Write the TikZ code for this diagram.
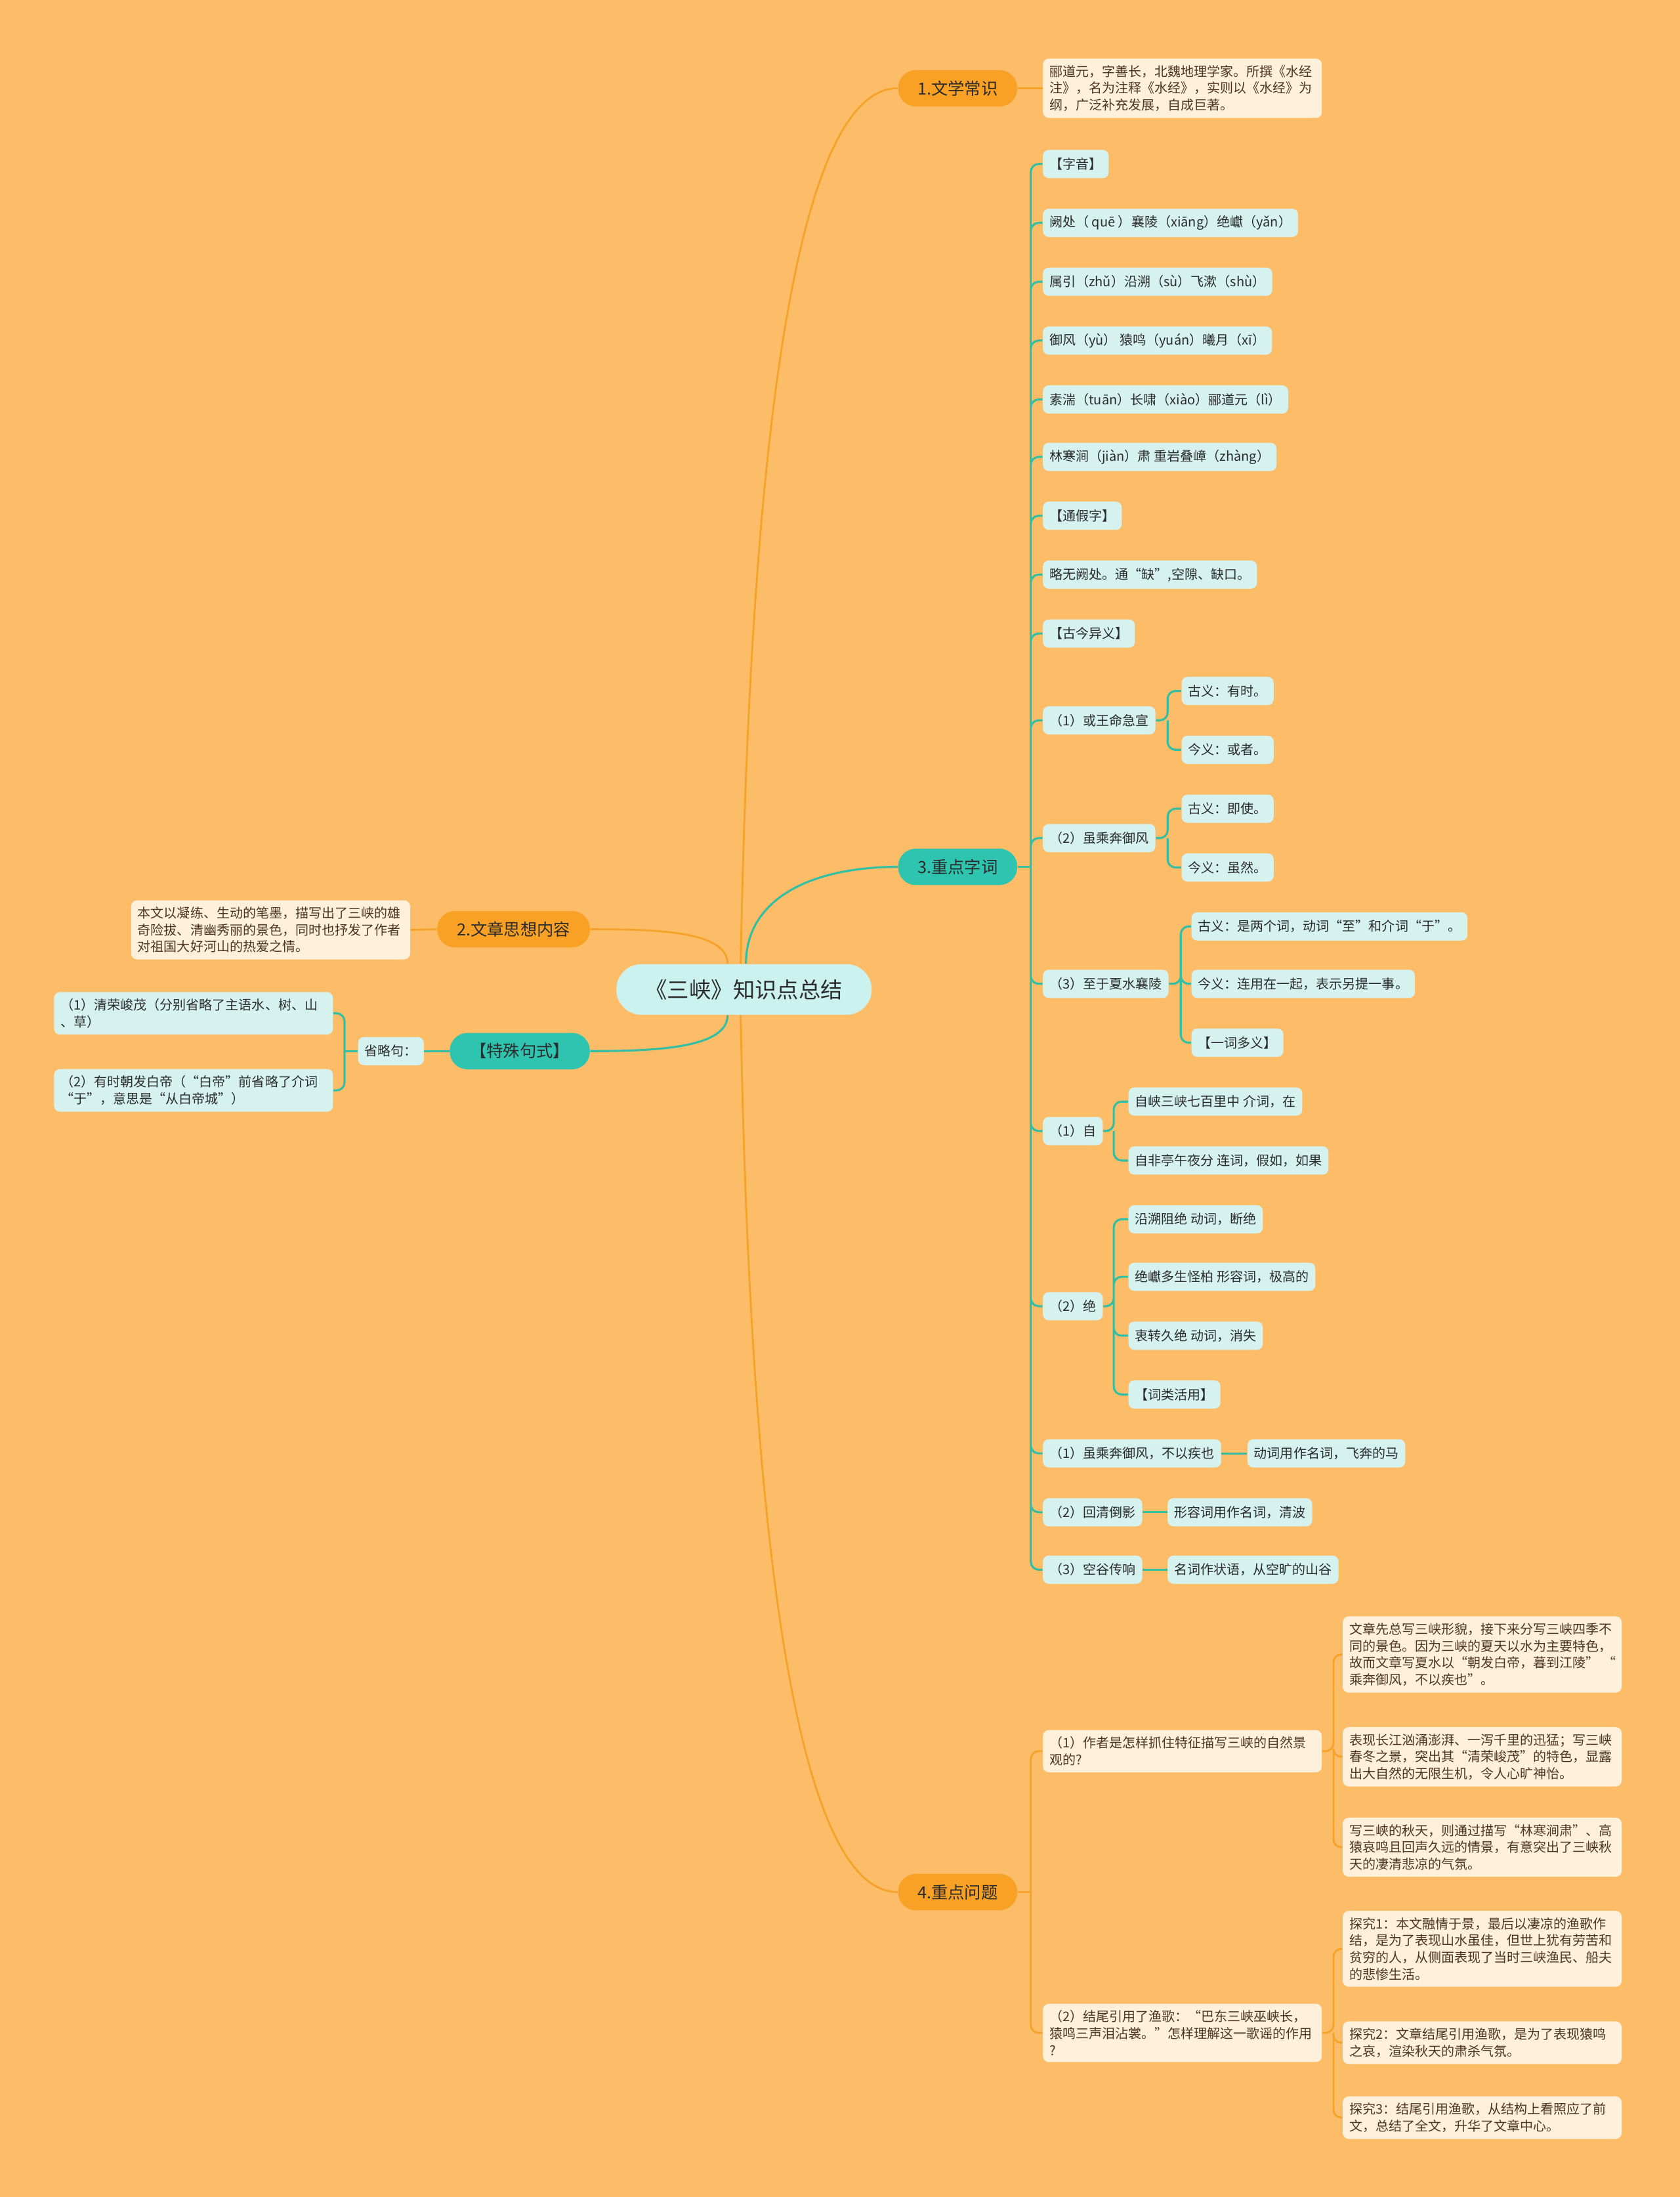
\documentclass[tikz,border=0pt]{standalone}
\usepackage{fontspec}
\setmainfont{Noto Sans CJK SC}
\usetikzlibrary{positioning}

\definecolor{bgcol}{HTML}{FDBD68}
\definecolor{orangeB}{HTML}{F9A125}
\definecolor{orangeL}{HTML}{F5A229}
\definecolor{tealB}{HTML}{2EC4AF}
\definecolor{tealL}{HTML}{33BFA3}
\definecolor{rootcol}{HTML}{CBF2EF}
\definecolor{leafteal}{HTML}{D5F2EF}
\definecolor{leafcream}{HTML}{FEF0DB}
\definecolor{textdark}{HTML}{2B2B2B}
\definecolor{textbrown}{HTML}{4B3621}

\begin{document}
\begin{tikzpicture}[
    rootbox/.style={fill=rootcol, rounded corners=0.38cm, minimum width=3.89cm,
        minimum height=0.77cm, text=textdark, font=\fontsize{9.5}{11}\selectfont},
    obranch/.style={fill=orangeB, rounded corners=0.27cm, minimum width=1.815cm,
        minimum height=0.555cm, text=textdark, font=\fontsize{7.2}{8.6}\selectfont},
    tbranch/.style={obranch, fill=tealB},
    tleaf/.style={fill=leafteal, rounded corners=0.09cm, minimum height=0.43cm,
        inner xsep=0.1cm, inner ysep=0.1cm, align=left, anchor=west,
        text=textdark, font=\fontsize{5.7}{7.3}\selectfont},
    cleaf/.style={tleaf, fill=leafcream, text=textbrown},
    wide/.style={text width=4.05cm},
    oline/.style={draw=orangeL, line width=0.8pt},
    tline/.style={draw=tealL, line width=0.9pt},
    trunk/.style={rounded corners=0.12cm}
]

    % 背景
    \fill[bgcol] (0, 0) rectangle (25.6, -33.47);

    % 中心主题
    \node[rootbox] (root) at (11.337, -15.074) {《三峡》知识点总结};

    % 一级分支
    \node[obranch] (b1) at (14.593, -1.345) {1.文学常识};
    \node[tbranch] (b3) at (14.593, -13.206) {3.重点字词};
    \node[obranch] (b4) at (14.593, -28.824) {4.重点问题};
    \node[obranch, minimum width=2.327cm] (b2) at (7.825, -14.156) {2.文章思想内容};
    \node[tbranch, minimum width=2.135cm] (b5) at (7.921, -16.013) {【特殊句式】};

    % 1.文学常识
    \node[cleaf, wide] (w1) at (15.885, -1.345)
        {郦道元，字善长，北魏地理学家。所撰《水经\\注》，名为注释《水经》，实则以《水经》为\\纲，广泛补充发展，自成巨著。};

    % 2.文章思想内容
    \node[cleaf, wide, anchor=east] (w2) at (6.256, -14.166)
        {本文以凝练、生动的笔墨，描写出了三峡的雄\\奇险拔、清幽秀丽的景色，同时也抒发了作者\\对祖国大好河山的热爱之情。};

    % 特殊句式
    \node[tleaf, anchor=center] (s0) at (5.957, -16.013) {省略句：};
    \node[tleaf, wide, anchor=east] (s1) at (5.081, -15.437)
        {（1）清荣峻茂（分别省略了主语水、树、山\\、草）};
    \node[tleaf, wide, anchor=east] (s2) at (5.081, -16.611)
        {（2）有时朝发白帝（“白帝”前省略了介词\\“于”，意思是“从白帝城”）};

    % 3.重点字词
    \node[tleaf] (k1) at (15.885, -2.498) {【字音】};
    \node[tleaf] (k2) at (15.885, -3.395) {阙处（ quē ）襄陵（xiāng）绝巘（yǎn）};
    \node[tleaf] (k3) at (15.885, -4.292) {属引（zhǔ）沿溯（sù）飞漱（shù）};
    \node[tleaf] (k4) at (15.885, -5.188) {御风（yù） 猿鸣（yuán）曦月（xī）};
    \node[tleaf] (k5) at (15.885, -6.085) {素湍（tuān）长啸（xiào）郦道元（lì）};
    \node[tleaf] (k6) at (15.885, -6.960) {林寒涧（jiàn）肃 重岩叠嶂（zhàng）};
    \node[tleaf] (k7) at (15.885, -7.857) {【通假字】};
    \node[tleaf] (k8) at (15.885, -8.754) {略无阙处。通“缺”,空隙、缺口。};
    \node[tleaf] (k9) at (15.885, -9.651) {【古今异义】};

    \node[tleaf] (q1) at (15.885, -10.974) {（1）或王命急宣};
    \node[tleaf] (q1a) at (17.999, -10.526) {古义：有时。};
    \node[tleaf] (q1b) at (17.999, -11.423) {今义：或者。};

    \node[tleaf] (q2) at (15.885, -12.768) {（2）虽乘奔御风};
    \node[tleaf] (q2a) at (17.999, -12.320) {古义：即使。};
    \node[tleaf] (q2b) at (17.999, -13.216) {今义：虽然。};

    \node[tleaf] (q3) at (15.885, -14.988) {（3）至于夏水襄陵};
    \node[tleaf] (q3a) at (18.148, -14.113) {古义：是两个词，动词“至”和介词“于”。};
    \node[tleaf] (q3b) at (18.148, -14.988) {今义：连用在一起，表示另提一事。};
    \node[tleaf] (q3c) at (18.148, -15.885) {【一词多义】};

    \node[tleaf] (z1) at (15.885, -17.230) {（1）自};
    \node[tleaf] (z1a) at (17.188, -16.782) {自峡三峡七百里中 介词，在};
    \node[tleaf] (z1b) at (17.188, -17.679) {自非亭午夜分 连词，假如，如果};

    \node[tleaf] (z2) at (15.885, -19.899) {（2）绝};
    \node[tleaf] (z2a) at (17.188, -18.575) {沿溯阻绝 动词，断绝};
    \node[tleaf] (z2b) at (17.188, -19.451) {绝巘多生怪柏 形容词，极高的};
    \node[tleaf] (z2c) at (17.188, -20.348) {衷转久绝 动词，消失};
    \node[tleaf] (z2d) at (17.188, -21.244) {【词类活用】};

    \node[tleaf] (h1) at (15.885, -22.141) {（1）虽乘奔御风，不以疾也};
    \node[tleaf] (h1a) at (19.002, -22.141) {动词用作名词，飞奔的马};
    \node[tleaf] (h2) at (15.885, -23.038) {（2）回清倒影};
    \node[tleaf] (h2a) at (17.785, -23.038) {形容词用作名词，清波};
    \node[tleaf] (h3) at (15.885, -23.913) {（3）空谷传响};
    \node[tleaf] (h3a) at (17.785, -23.913) {名词作状语，从空旷的山谷};

    % 4.重点问题
    \node[cleaf, wide] (p1) at (15.885, -26.678)
        {（1）作者是怎样抓住特征描写三峡的自然景\\观的?};
    \node[cleaf, wide] (p1a) at (20.454, -25.205)
        {文章先总写三峡形貌，接下来分写三峡四季不\\同的景色。因为三峡的夏天以水为主要特色，\\故而文章写夏水以“朝发白帝，暮到江陵”\kern0.3em“\\乘奔御风，不以疾也”。};
    \node[cleaf, wide] (p1b) at (20.454, -26.763)
        {表现长江汹涌澎湃、一泻千里的迅猛；写三峡\\春冬之景，突出其“清荣峻茂”的特色，显露\\出大自然的无限生机，令人心旷神怡。};
    \node[cleaf, wide] (p1c) at (20.454, -28.141)
        {写三峡的秋天，则通过描写“林寒涧肃”、高\\猿哀鸣且回声久远的情景，有意突出了三峡秋\\天的凄清悲凉的气氛。};

    \node[cleaf, wide] (p2) at (15.885, -30.970)
        {（2）结尾引用了渔歌：“巴东三峡巫峡长，\\猿鸣三声泪沾裳。”怎样理解这一歌谣的作用\\?};
    \node[cleaf, wide] (p2a) at (20.454, -29.689)
        {探究1：本文融情于景，最后以凄凉的渔歌作\\结，是为了表现山水虽佳，但世上犹有劳苦和\\贫穷的人，从侧面表现了当时三峡渔民、船夫\\的悲惨生活。};
    \node[cleaf, wide] (p2b) at (20.454, -31.119)
        {探究2：文章结尾引用渔歌，是为了表现猿鸣\\之哀，渲染秋天的肃杀气氛。};
    \node[cleaf, wide] (p2c) at (20.454, -32.261)
        {探究3：结尾引用渔歌，从结构上看照应了前\\文，总结了全文，升华了文章中心。};

    % 中心到一级分支
    \draw[oline] ([xshift=-0.05cm]root.north) .. controls +(0.15, 8.3) and +(-1.5, 0) .. (b1.west);
    \draw[tline] ([xshift=0.03cm]root.north) .. controls +(0, 1.0) and +(-1.3, 0) .. (b3.west);
    \draw[oline] ([xshift=-0.05cm]root.south) .. controls +(0.15, -8.3) and +(-1.5, 0) .. (b4.west);
    \draw[oline] ([xshift=-0.25cm]root.north) .. controls +(0, 0.5) and +(1.0, 0) .. (b2.east);
    \draw[tline] ([xshift=-0.25cm]root.south) .. controls +(0, -0.5) and +(1.0, 0) .. (b5.east);

    % 一级分支到子节点
    \draw[oline] (b1.east) -- (w1.west);
    \draw[oline] (b2.west) -- (w2.east);
    \draw[tline] (b5.west) -- (s0.east);
    \coordinate (js) at ([xshift=-0.2cm]s0.west);
    \draw[tline] (s0.west) -- (js);
    \draw[tline, trunk] (js) |- (s1.east) (js) |- (s2.east);

    \coordinate (j3) at ([xshift=0.2cm]b3.east);
    \draw[tline] (b3.east) -- (j3);
    \draw[tline, trunk] (j3) |- (k1.west) (j3) |- (k2.west) (j3) |- (k3.west)
        (j3) |- (k4.west) (j3) |- (k5.west) (j3) |- (k6.west) (j3) |- (k7.west)
        (j3) |- (k8.west) (j3) |- (k9.west) (j3) |- (q1.west) (j3) |- (q2.west)
        (j3) |- (q3.west) (j3) |- (z1.west) (j3) |- (z2.west) (j3) |- (h1.west)
        (j3) |- (h2.west) (j3) |- (h3.west);

    % 古今异义、一词多义
    \draw[tline, trunk] (q1.east) -- ++(0.18, 0) coordinate (jq1) |- (q1a.west) (jq1) |- (q1b.west);
    \draw[tline, trunk] (q2.east) -- ++(0.18, 0) coordinate (jq2) |- (q2a.west) (jq2) |- (q2b.west);
    \draw[tline, trunk] (q3.east) -- ++(0.18, 0) coordinate (jq3) |- (q3a.west) (jq3) |- (q3b.west)
        (jq3) |- (q3c.west);
    \draw[tline, trunk] (z1.east) -- ++(0.16, 0) coordinate (jz1) |- (z1a.west) (jz1) |- (z1b.west);
    \draw[tline, trunk] (z2.east) -- ++(0.16, 0) coordinate (jz2) |- (z2a.west) (jz2) |- (z2b.west)
        (jz2) |- (z2c.west) (jz2) |- (z2d.west);

    % 词类活用
    \draw[tline] (h1.east) -- (h1a.west);
    \draw[tline] (h2.east) -- (h2a.west);
    \draw[tline] (h3.east) -- (h3a.west);

    % 4.重点问题
    \coordinate (j4) at ([xshift=0.2cm]b4.east);
    \draw[oline] (b4.east) -- (j4);
    \draw[oline, trunk] (j4) |- (p1.west) (j4) |- (p2.west);
    \draw[oline, trunk] (p1.east) -- ++(0.17, 0) coordinate (jp1) |- (p1a.west) (jp1) |- (p1b.west)
        (jp1) |- (p1c.west);
    \draw[oline, trunk] (p2.east) -- ++(0.17, 0) coordinate (jp2) |- (p2a.west) (jp2) |- (p2b.west)
        (jp2) |- (p2c.west);

\end{tikzpicture}
\end{document}
